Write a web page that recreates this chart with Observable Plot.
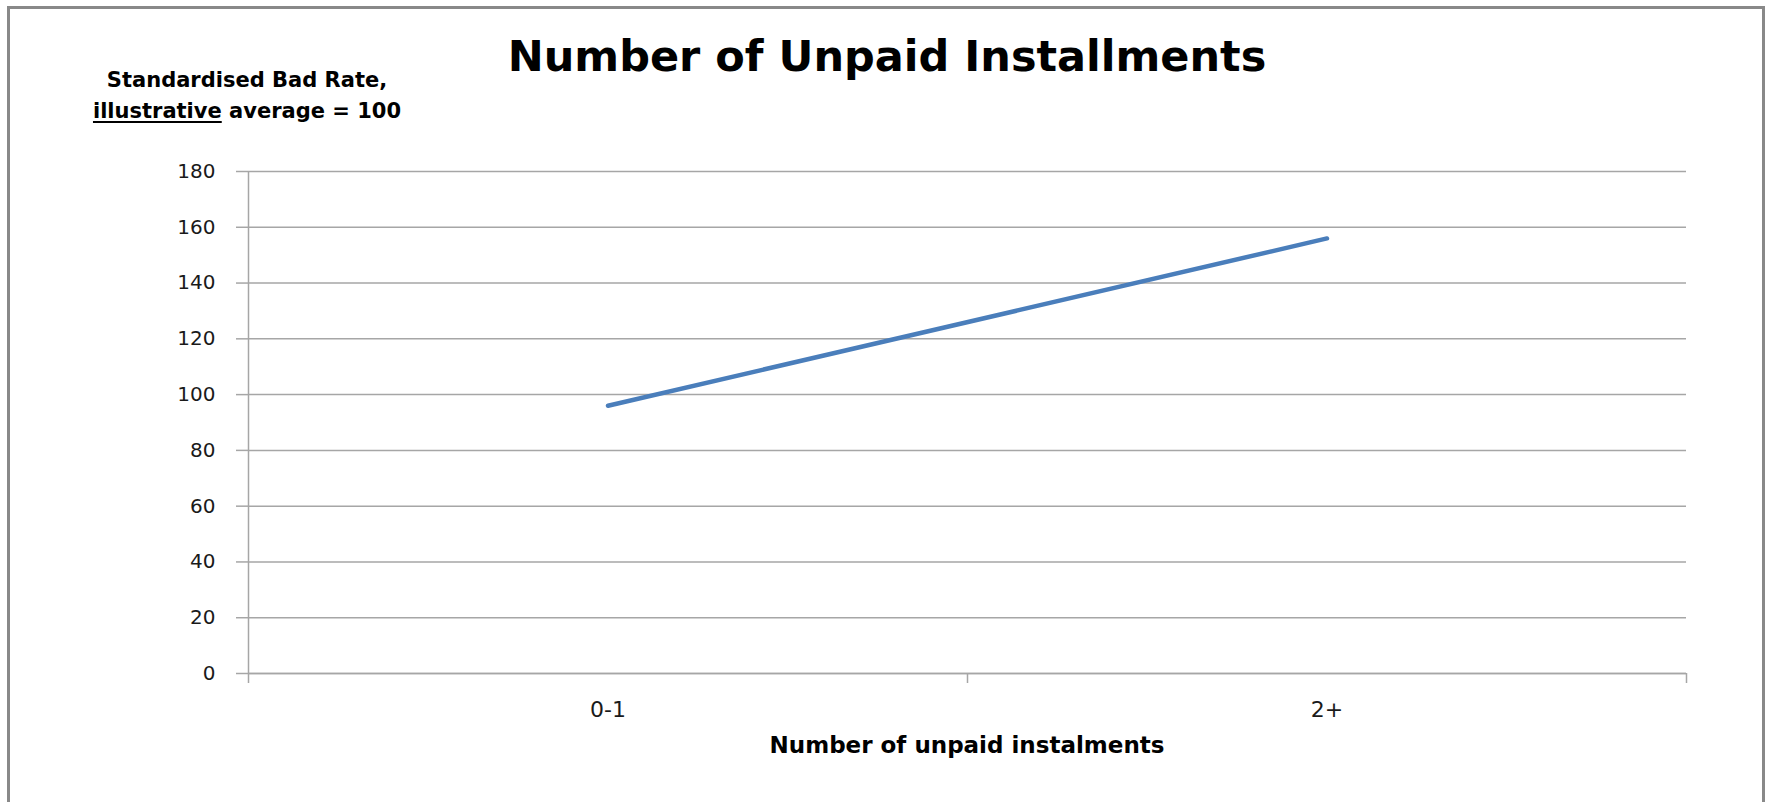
<!DOCTYPE html>
<html><head><meta charset="utf-8">
<script src="https://cdn.jsdelivr.net/npm/d3@7"></script>
<script src="https://cdn.jsdelivr.net/npm/@observablehq/plot@0.6"></script>
<style>
html,body{margin:0;padding:0;background:#fff;}
#wrap{position:relative;width:1765px;height:802px;overflow:hidden;background:#fff;}
#chart{position:absolute;left:0;top:0;}
#frame{position:absolute;left:7px;top:6px;width:1758px;height:900px;border:3px solid #898989;box-sizing:border-box;pointer-events:none;}
.t{position:absolute;font-family:"DejaVu Sans";font-weight:bold;color:#000;white-space:nowrap;transform:translateX(-50%);text-align:center;}
#title{left:887px;top:35px;font-size:43px;line-height:43px;}
#ylab{left:247px;top:65px;font-size:21px;line-height:31px;}
#ylab u{text-decoration-thickness:2px;text-underline-offset:3px;}
#xlab{left:967px;top:734px;font-size:23px;line-height:23px;}
</style></head><body>
<div id="wrap">
<div id="chart"></div>
<div id="frame"></div>
<div id="title" class="t">Number of Unpaid Installments</div>
<div id="ylab" class="t">Standardised Bad Rate,<br><u>illustrative</u> average = 100</div>
<div id="xlab" class="t">Number of unpaid instalments</div>
</div>
<script>
// Data
const categories = ["0-1", "2+"];
const badRate = [96, 156];
const yTicks = [0, 20, 40, 60, 80, 100, 120, 140, 160, 180];

const data = categories.map((c, i) => ({idx: i, cat: c, v: badRate[i]}));
const xBounds = [-0.5, 0.5, 1.5];
const grid = "#a6a6a6";

const chart = Plot.plot({
  width: 1765,
  height: 802,
  marginLeft: 248,
  marginRight: 79,
  marginTop: 171,
  marginBottom: 129,
  style: {fontFamily: "DejaVu Sans", background: "transparent", color: "#000"},
  x: {type: "linear", domain: [-0.5, 1.5]},
  y: {domain: [0, 180]},
  marks: [
    Plot.gridY(yTicks, {stroke: grid, strokeOpacity: 1, strokeWidth: 1.5}),
    Plot.ruleX([-0.5], {y1: 0, y2: 180, stroke: grid, strokeWidth: 1.5}),
    Plot.ruleY([0], {stroke: grid, strokeWidth: 1.5}),
    Plot.axisY(yTicks, {tickSize: 12, tickPadding: 21, fontSize: 20, stroke: grid, strokeWidth: 1.5, fill: "#1a1a1a", label: null}),
    Plot.axisX(xBounds, {tickSize: 10, tickFormat: () => "", stroke: grid, strokeWidth: 1.5, label: null}),
    Plot.text(data, {x: "idx", text: "cat", frameAnchor: "bottom", lineAnchor: "middle", dy: 36, fontSize: 22, fill: "#1a1a1a"}),
    Plot.line(data, {x: "idx", y: "v", stroke: "#4a7ebb", strokeWidth: 4.5, strokeLinecap: "round"})
  ]
});
document.getElementById("chart").appendChild(chart);
</script>
</body></html>
